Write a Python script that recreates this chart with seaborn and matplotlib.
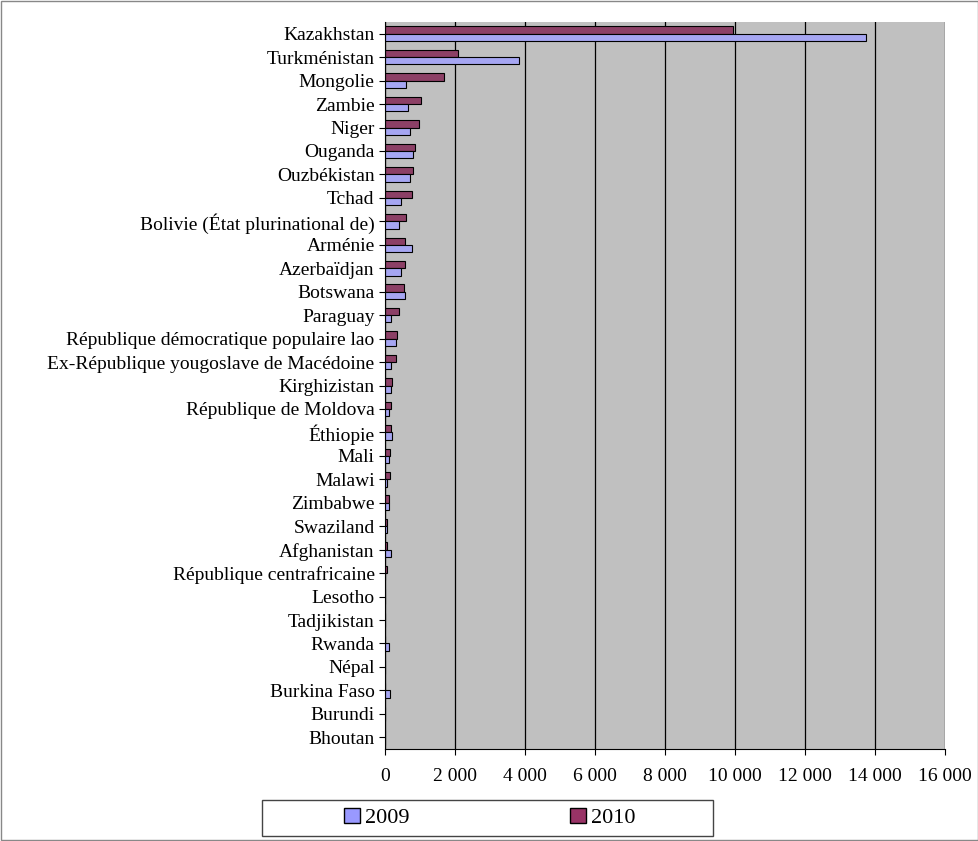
import pandas as pd
import matplotlib
matplotlib.use("Agg")
import matplotlib.pyplot as plt
import seaborn as sns
from matplotlib.patches import Patch
from matplotlib.ticker import FuncFormatter

countries = ["Kazakhstan", "Turkménistan", "Mongolie", "Zambie", "Niger", "Ouganda",
             "Ouzbékistan", "Tchad", "Bolivie (État plurinational de)", "Arménie",
             "Azerbaïdjan", "Botswana", "Paraguay", "République démocratique populaire lao",
             "Ex-République yougoslave de Macédoine", "Kirghizistan", "République de Moldova",
             "Éthiopie", "Mali", "Malawi", "Zimbabwe", "Swaziland", "Afghanistan",
             "République centrafricaine", "Lesotho", "Tadjikistan", "Rwanda", "Népal",
             "Burkina Faso", "Burundi", "Bhoutan"]
v2009 = [13750, 3820, 610, 670, 720, 790, 720, 450, 410, 760, 450, 570, 180, 300, 180,
         180, 100, 210, 100, 70, 100, 70, 180, 0, 0, 0, 100, 0, 150, 0, 0]
v2010 = [9950, 2080, 1680, 1030, 960, 850, 800, 760, 610, 560, 560, 530, 410, 330, 300,
         210, 180, 180, 150, 150, 100, 70, 70, 70, 0, 0, 0, 0, 0, 0, 0]

df = pd.DataFrame({"pays": countries * 2,
                   "valeur": v2009 + v2010,
                   "annee": ["2009"] * len(countries) + ["2010"] * len(countries)})

plt.rcParams["font.family"] = ["Liberation Serif", "DejaVu Serif"]
c09, c10 = "#9999ff", "#993366"
W, H = 979, 841

fig = plt.figure(figsize=(9.79, 8.41), dpi=100)
ax = fig.add_axes([385 / W, 1 - 749 / H, 560 / W, 727 / H])
sns.barplot(data=df, y="pays", x="valeur", hue="annee", hue_order=["2010", "2009"],
            palette={"2009": c09, "2010": c10}, orient="h", width=0.62,
            edgecolor="black", linewidth=0.8, legend=False, ax=ax)
ax.set_facecolor("#c0c0c0")
ax.set_xlim(0, 16000)
ax.set_xticks(range(0, 16001, 2000))
ax.xaxis.set_major_formatter(FuncFormatter(lambda v, p: f"{int(v):,}".replace(",", " ")))
ax.grid(axis="x", color="black", linewidth=0.9)
ax.set_axisbelow(True)
ax.set_xlabel("")
ax.set_ylabel("")
ax.tick_params(labelsize=14, length=4)
ax.tick_params(axis="x", pad=10)
for s in ["top", "right"]:
    ax.spines[s].set_visible(False)
ax.set_ylim(len(countries) - 0.5, -0.5)

handles = [Patch(facecolor=c09, edgecolor="black", label="2009"),
           Patch(facecolor=c10, edgecolor="black", label="2010")]
fig.patches.append(plt.Rectangle((262 / W, 1 - 836 / H), 451 / W, 36 / H,
                                 transform=fig.transFigure, fill=False,
                                 edgecolor="#444444", linewidth=1))
fig.legend(handles=handles, loc="center", bbox_to_anchor=(490 / W, 1 - 818 / H),
           ncol=2, frameon=False, fontsize=16,
           columnspacing=7.2, handlelength=0.7, handleheight=0.7, handletextpad=0.25,
           borderpad=0, borderaxespad=0)
fig.patches.append(plt.Rectangle((0.001, 0.001), 0.998, 0.998, transform=fig.transFigure,
                                 fill=False, edgecolor="#888888", linewidth=1))
fig.savefig("out.png", dpi=100, facecolor="white")
